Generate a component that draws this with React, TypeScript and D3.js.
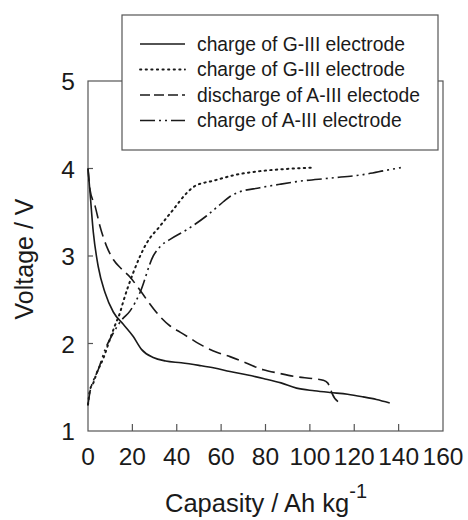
import React from "react";
import * as d3 from "d3";

const xTicks = [0, 20, 40, 60, 80, 100, 120, 140, 160];
const yTicks = [1, 2, 3, 4, 5];

const legendLabels = [
  "charge of G-III electrode",
  "charge of G-III electrode",
  "discharge of A-III electode",
  "charge of A-III electrode",
];

const solidG: [number, number][] = [
  [0, 4.0], [0.8, 3.76], [2.4, 3.27], [4.6, 2.88], [7.7, 2.58], [11.4, 2.36],
  [15.9, 2.22], [20.4, 2.08], [24.2, 1.93], [29.4, 1.84], [35, 1.8], [42, 1.78],
  [50, 1.75], [57, 1.72], [64, 1.68], [72, 1.64], [79, 1.6], [87, 1.55], [94, 1.49],
  [102, 1.46], [109, 1.44], [117, 1.42], [124, 1.39], [130, 1.36], [136, 1.32],
];

const dottedG: [number, number][] = [
  [0, 1.3], [0.9, 1.47], [2.4, 1.55], [3.9, 1.66], [6.9, 1.83], [9.9, 2.05],
  [12.2, 2.21], [14.4, 2.35], [15.9, 2.48], [20.4, 2.81], [26.5, 3.15], [32.4, 3.34],
  [38.4, 3.53], [44.5, 3.72], [48.2, 3.8], [56.5, 3.86], [67, 3.93], [77.5, 3.97],
  [86.5, 3.99], [101, 4.01],
];

const dashedA: [number, number][] = [
  [0, 4.0], [0.9, 3.76], [3.2, 3.57], [5.4, 3.34], [8.4, 3.11], [11.4, 2.96],
  [15.2, 2.85], [18.9, 2.76], [22, 2.66], [26.5, 2.5], [32.4, 2.31], [37, 2.2],
  [41.5, 2.13], [46, 2.06], [52, 1.97], [58, 1.9], [64, 1.85], [71, 1.78], [79, 1.7],
  [86, 1.66], [94, 1.62], [101, 1.6], [106, 1.58], [108, 1.55], [109, 1.5],
  [110, 1.43], [113.6, 1.32],
];

const dashDotA: [number, number][] = [
  [0, 1.3], [0.9, 1.45], [2.5, 1.58], [4.6, 1.7], [7.7, 1.93], [11.4, 2.12],
  [15.2, 2.27], [18.9, 2.37], [23.4, 2.58], [29.4, 3.0], [33, 3.12], [37, 3.19],
  [44.5, 3.3], [53.5, 3.46], [61, 3.62], [64, 3.68], [67, 3.72], [77.5, 3.78],
  [86.5, 3.82], [94, 3.85], [109, 3.89], [124, 3.93], [134.6, 3.98], [141, 4.01],
];

const series = [solidG, dottedG, dashedA, dashDotA];
const dashes = ["none", "1.4,4.2", "13,6", "15,4,2,4,2,4"];

export default function App() {
  const left = 88, right = 443, top = 81, bottom = 431;
  const x = d3.scaleLinear().domain([0, 160]).range([left, right]);
  const y = d3.scaleLinear().domain([1, 5]).range([bottom, top]);
  const line = d3
    .line<[number, number]>()
    .x((d) => x(d[0]))
    .y((d) => y(d[1]))
    .curve(d3.curveMonotoneX);
  const font = "'Liberation Sans', Arial, sans-serif";
  const ink = "#1a1a1a";
  const frame = "#555";

  const lgX = 122, lgY = 15, lgW = 316, lgH = 135;
  const rowY = [44, 69.5, 95, 120.5];

  return (
    <svg
      width={468}
      height={520}
      style={{ position: "absolute", left: 0, top: 0, background: "#fff" }}
      fontFamily={font}
    >
      <rect x={0} y={0} width={468} height={520} fill="#fff" />
      <rect x={left} y={top} width={right - left} height={bottom - top} fill="none" stroke={frame} strokeWidth={1.2} />
      {xTicks.map((t) => (
        <g key={"x" + t}>
          {t > 0 && t < 160 && (
            <line x1={x(t)} x2={x(t)} y1={bottom} y2={bottom - 7} stroke={frame} strokeWidth={1.2} />
          )}
          <text x={x(t)} y={465} textAnchor="middle" fontSize={24.5} fill={ink}>
            {t}
          </text>
        </g>
      ))}
      {yTicks.map((t) => (
        <g key={"y" + t}>
          {t > 1 && t < 5 && (
            <line x1={left} x2={left + 5} y1={y(t)} y2={y(t)} stroke={frame} strokeWidth={1.2} />
          )}
          <text x={75} y={y(t) + 9} textAnchor="end" fontSize={24.5} fill={ink}>
            {t}
          </text>
        </g>
      ))}
      <g>
        {series.map((s, i) => (
          <path
            key={i}
            d={line(s) || ""}
            fill="none"
            stroke={ink}
            strokeWidth={i === 1 ? 2 : 1.6}
            strokeLinecap={i === 1 ? "round" : "butt"}
            strokeDasharray={dashes[i]}
          />
        ))}
      </g>
      <rect x={lgX} y={lgY} width={lgW} height={lgH} fill="#fff" stroke={frame} strokeWidth={1.2} />
      {legendLabels.map((lab, i) => (
        <g key={"l" + i}>
          <line
            x1={140}
            x2={185}
            y1={rowY[i]}
            y2={rowY[i]}
            stroke={ink}
            strokeWidth={i === 1 ? 1.8 : 1.5}
            strokeLinecap={i === 1 ? "round" : "butt"}
            strokeDasharray={i === 2 ? "10,4" : dashes[i]}
          />
          <text x={197} y={rowY[i] + 6.5} fontSize={19.3} fill={ink}>
            {lab}
          </text>
        </g>
      ))}
      <text
        transform={`translate(33, ${(top + bottom) / 2 + 3}) rotate(-90)`}
        textAnchor="middle"
        fontSize={25}
        fill={ink}
      >
        Voltage / V
      </text>
      <text x={165} y={512} fontSize={25.5} fill={ink}>
        Capasity / Ah kg
        <tspan dy={-14} fontSize={20}>-1</tspan>
      </text>
    </svg>
  );
}
